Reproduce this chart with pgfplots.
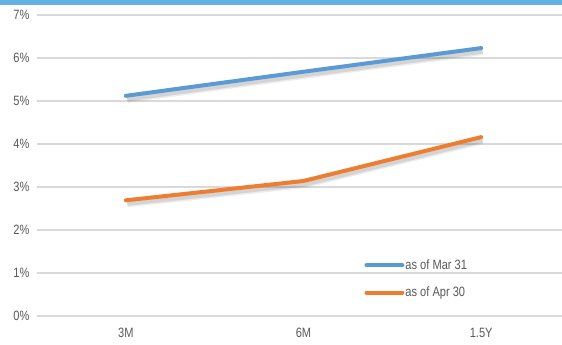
\documentclass[border=0pt]{standalone}
\usepackage{fontspec}
\setmainfont{Liberation Sans}[FakeStretch=0.82]
\usepackage{pgfplots}
\pgfplotsset{compat=1.18}
\definecolor{band}{HTML}{63B2E3}
\definecolor{grid}{HTML}{D9D9D9}
\definecolor{txt}{HTML}{595959}
\definecolor{sblue}{HTML}{5B9BD5}
\definecolor{sorange}{HTML}{ED7D31}
\begin{document}
\begin{tikzpicture}[x=1bp,y=1bp]
\useasboundingbox (0,0) rectangle (562,344);
\clip (0,0) rectangle (562,344);
\fill[white] (0,0) rectangle (562,344);
\fill[band] (0,338.5) rectangle (562,344);
\begin{axis}[
  at={(37bp,28bp)}, anchor=south west,
  scale only axis, width=533bp, height=301bp,
  xmin=-0.5, xmax=2.5, ymin=0, ymax=7,
  axis line style={draw=none},
  xtick={0,1,2}, xticklabels={3M,6M,1.5Y},
  ytick={0,1,...,7},
  yticklabel={\pgfmathprintnumber{\tick}\%},
  xmajorgrids=false, ymajorgrids=true,
  y grid style={grid, line width=1.4bp},
  major tick length=0pt,
  tick style={draw=none},
  ticklabel style={font=\fontsize{13.5bp}{15bp}\selectfont, text=txt},
  /pgf/number format/assume math mode=true,
  yticklabel style={xshift=-4bp},
  xticklabel style={yshift=-9bp},
  clip=false,
  legend style={at={(0.614,0.123)}, anchor=west, draw=none, fill=none,
    font=\fontsize{13.5bp}{15bp}\selectfont, text=txt,
    row sep=14bp, inner sep=0pt, nodes={inner sep=1bp}},
  legend cell align=left,
  legend image code/.code={\draw[#1, line width=4bp] (0bp,0bp) -- (36bp,0bp);},
]
\addplot[draw=black, opacity=0.07, line width=7bp, xshift=1.5bp, yshift=-3.5bp, forget plot] coordinates {(0,5.12) (1,5.68) (2,6.23)};
\addplot[draw=black, opacity=0.1, line width=4bp, xshift=1.5bp, yshift=-3.5bp, forget plot] coordinates {(0,5.12) (1,5.68) (2,6.23)};
\addplot[draw=black, opacity=0.07, line width=7bp, xshift=1.5bp, yshift=-3.5bp, forget plot] coordinates {(0,2.69) (1,3.14) (2,4.16)};
\addplot[draw=black, opacity=0.1, line width=4bp, xshift=1.5bp, yshift=-3.5bp, forget plot] coordinates {(0,2.69) (1,3.14) (2,4.16)};
\addplot[draw=sblue, line width=4bp, line cap=round] coordinates {(0,5.12) (1,5.68) (2,6.23)};
\addlegendentry{as of Mar 31}
\addplot[draw=sorange, line width=4bp, line cap=round] coordinates {(0,2.69) (1,3.14) (2,4.16)};
\addlegendentry{as of Apr 30}
\end{axis}
\end{tikzpicture}
\end{document}
